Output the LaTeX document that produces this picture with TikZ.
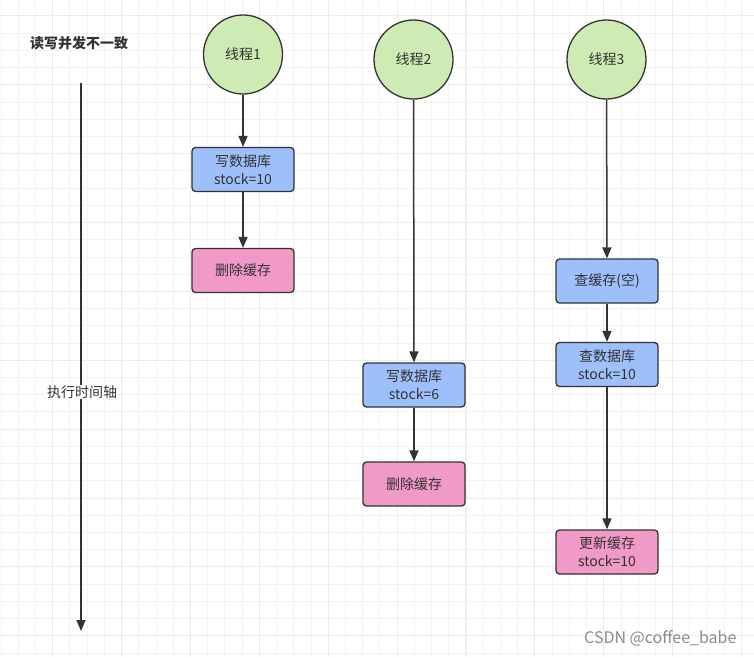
\documentclass[tikz,border=0pt]{standalone}
\usepackage{fontspec}
\setmainfont{Noto Sans CJK SC}
\usetikzlibrary{arrows.meta}
\definecolor{gridminor}{HTML}{F3F3F3}
\definecolor{gridmajor}{HTML}{EBEBEB}
\definecolor{threadfill}{HTML}{CDEBB2}
\definecolor{bluefill}{HTML}{9DBFFA}
\definecolor{pinkfill}{HTML}{F199C7}
\definecolor{edge}{HTML}{333333}
\definecolor{txt}{HTML}{333333}
\definecolor{wm}{HTML}{8C8C8C}
\begin{document}
\begin{tikzpicture}[x=1pt,y=-1pt,
  minorline/.style={draw=gridminor,line width=1pt},
  majorline/.style={draw=gridmajor,line width=1pt},
  thread/.style={circle,draw=edge,fill=threadfill,line width=1.3pt,minimum size=79pt,inner sep=0pt,text=txt,font=\fontsize{14}{18}\selectfont},
  boxbase/.style={rectangle,rounded corners=3.5pt,draw=edge,line width=1.3pt,minimum width=102pt,minimum height=44pt,inner sep=1pt,align=center,text=txt,font=\fontsize{14}{18}\selectfont},
  bluebox/.style={boxbase,fill=bluefill},
  pinkbox/.style={boxbase,fill=pinkfill},
  arr/.style={draw=edge,line width=1.5pt,-{Triangle[length=11pt,width=9pt]}},
  plain/.style={text=txt,font=\fontsize{14}{18}\selectfont}
]
\useasboundingbox (0,0) rectangle (754,657);
\fill[white] (0,0) rectangle (754,657);
% grid
\foreach \i in {0,...,44} \draw[minorline] ({1.1+17.22*\i},0) -- ++(0,657);
\foreach \j in {0,...,38} \draw[minorline] (0,{-1.3+17.22*\j}) -- ++(754,0);
\foreach \i in {0,...,10} \draw[majorline] ({52.7+68.88*\i},0) -- ++(0,657);
\foreach \j in {0,...,9} \draw[majorline] (0,{15.9+68.88*\j}) -- ++(754,0);

% title
\node[plain,font=\fontsize{14}{18}\selectfont\bfseries] (title) at (79,43) {读写并发不一致};

% timeline
\coordinate (ts) at (81,83);
\coordinate (te) at (81,631);
\draw[arr] (ts) -- (te);
\node[plain,fill=white,inner sep=1pt] (axis) at (82,392) {执行时间轴};

% threads
\node[thread] (t1) at (243,54.5) {线程1};
\node[thread] (t2) at (413.5,59.5) {线程2};
\node[thread] (t3) at (606.5,59.5) {线程3};

% thread 1
\node[bluebox] (w1) at (243,169.5) {写数据库\\stock=10};
\node[pinkbox] (d1) at (243,270.5) {删除缓存};
% thread 2
\node[bluebox] (w2) at (414,385) {写数据库\\stock=6};
\node[pinkbox] (d2) at (414,484) {删除缓存};
% thread 3
\node[bluebox] (q1) at (607,281) {查缓存(空)};
\node[bluebox] (q2) at (607,364.5) {查数据库\\stock=10};
\node[pinkbox] (u3) at (607,552) {更新缓存\\stock=10};

\draw[arr] (t1) -- (w1);
\draw[arr] (w1) -- (d1);
\draw[arr] (t2) -- (w2);
\draw[arr] (w2) -- (d2);
\draw[arr] (t3) -- (q1);
\draw[arr] (q1) -- (q2);
\draw[arr] (q2) -- (u3);

% watermark
\node[text=wm,font=\fontsize{16}{18}\selectfont,anchor=east] (wmk) at (740,638) {CSDN @coffee\_babe};
\end{tikzpicture}
\end{document}
